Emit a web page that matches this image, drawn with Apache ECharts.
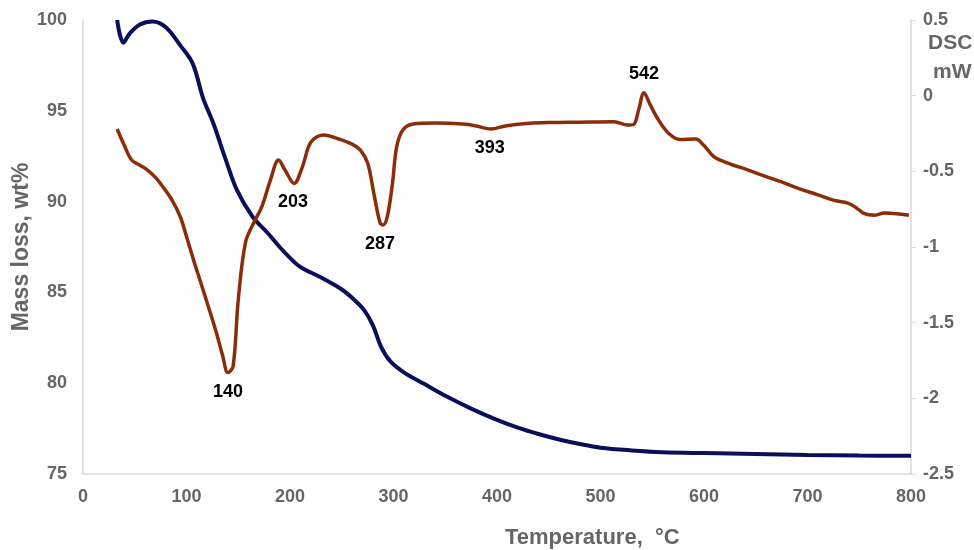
<!DOCTYPE html>
<html>
<head>
<meta charset="utf-8">
<script src="https://cdn.jsdelivr.net/npm/echarts@6/dist/echarts.min.js"></script>
<style>
  html, body { margin: 0; padding: 0; background: #fff; }
  #chart { width: 974px; height: 550px; }
</style>
</head>
<body>
<div id="chart"></div>
<script>
// TGA curve (mass loss, left axis)
const tgaTemp = [33, 39, 45, 55, 67, 80, 94, 106, 116, 126, 138, 149, 164, 178, 190, 200, 210, 229, 249, 262, 272, 280, 288, 297, 310, 330, 352, 375, 397, 420, 440, 460, 480, 500, 530, 560, 600, 650, 700, 750, 800]
const tgaMass = [100.0, 98.75, 99.25, 99.75, 99.92, 99.6, 98.6, 97.6, 95.7, 94.3, 92.3, 90.6, 89.15, 88.3, 87.5, 86.9, 86.4, 85.85, 85.2, 84.6, 84.0, 83.2, 82.0, 81.2, 80.6, 79.95, 79.25, 78.6, 78.05, 77.55, 77.2, 76.9, 76.65, 76.45, 76.3, 76.2, 76.15, 76.1, 76.05, 76.02, 76.0]

// DSC curve (right axis)
const dscTemp = [33, 40, 47, 55, 62, 70, 77, 86, 94, 100, 107, 114, 120, 129, 135, 140, 145, 150, 157, 165, 173, 181, 189, 195, 204, 212, 220, 232, 249, 260, 268, 275, 281, 287, 290, 294, 299, 303, 309, 319, 340, 367, 380, 394, 408, 423, 450, 480, 513, 526, 532, 537, 542, 548, 556, 566, 577, 592, 600, 610, 625, 642, 658, 675, 693, 710, 725, 739, 747, 755, 765, 774, 786, 798]
const dscHeat = [-0.22, -0.33, -0.425, -0.46, -0.49, -0.54, -0.60, -0.69, -0.80, -0.93, -1.09, -1.24, -1.37, -1.57, -1.72, -1.83, -1.79, -1.35, -0.97, -0.84, -0.73, -0.56, -0.425, -0.49, -0.58, -0.47, -0.31, -0.26, -0.29, -0.32, -0.36, -0.445, -0.645, -0.84, -0.855, -0.80, -0.58, -0.34, -0.227, -0.187, -0.18, -0.187, -0.2, -0.22, -0.2, -0.187, -0.178, -0.175, -0.172, -0.194, -0.19, -0.09, 0.02, -0.06, -0.16, -0.25, -0.29, -0.286, -0.33, -0.405, -0.45, -0.49, -0.53, -0.57, -0.617, -0.655, -0.69, -0.71, -0.74, -0.78, -0.79, -0.776, -0.78, -0.79]

// peak annotations
const peakTemp = [140, 203, 287, 393, 542]
const peakHeat = [-1.83, -0.58, -0.855, -0.22, 0.02]
const peakAbove = [false, false, false, false, true]

const grey = '#666666'
const font = 'Liberation Sans, Arial, sans-serif'

const chart = echarts.init(document.getElementById('chart'))

const option = {
  animation: false,
  backgroundColor: '#fff',
  grid: { left: 83, right: 63, top: 20, bottom: 76, outerBoundsMode: 'none' },
  xAxis: {
    type: 'value',
    min: 0,
    max: 800,
    interval: 100,
    axisLine: { show: true, onZero: false, lineStyle: { color: '#d9d9d9', width: 1.5 } },
    axisTick: { show: false },
    splitLine: { show: false },
    axisLabel: { color: grey, fontSize: 18, fontWeight: 'bold', fontFamily: font, margin: 14 }
  },
  yAxis: [
    {
      type: 'value',
      min: 75,
      max: 100,
      interval: 5,
      name: 'Mass loss, wt%',
      nameLocation: 'middle',
      nameGap: 50,
      nameMoveOverlap: false,
      nameTextStyle: { color: grey, fontSize: 23, fontWeight: 'bold', fontFamily: font },
      axisLine: { show: true, lineStyle: { color: '#d9d9d9', width: 1.5 } },
      axisTick: { show: false },
      splitLine: { show: false },
      axisLabel: { color: grey, fontSize: 18, fontWeight: 'bold', fontFamily: font, margin: 16 }
    },
    {
      type: 'value',
      position: 'right',
      min: -2.5,
      max: 0.5,
      interval: 0.5,
      axisLine: { show: true, lineStyle: { color: '#d9d9d9', width: 1.5 } },
      axisTick: { show: true, length: 5, lineStyle: { color: '#d9d9d9' } },
      splitLine: { show: false },
      axisLabel: { color: grey, fontSize: 18, fontWeight: 'bold', fontFamily: font, margin: 12 }
    }
  ],
  graphic: [
    {
      type: 'text',
      left: 505,
      top: 527,
      style: { text: 'Temperature,  °C', fill: grey, font: 'bold 22px ' + font }
    },
    {
      type: 'text',
      left: 928,
      top: 33,
      style: { text: 'DSC', fill: grey, font: 'bold 21px ' + font }
    },
    {
      type: 'text',
      left: 933,
      top: 62,
      style: { text: 'mW', fill: grey, font: 'bold 21px ' + font }
    }
  ],
  series: [
    {
      name: 'TGA',
      type: 'line',
      yAxisIndex: 0,
      data: tgaTemp.map((t, i) => [t, tgaMass[i]]),
      smooth: 0.35,
      showSymbol: false,
      lineStyle: { color: '#0b0f5a', width: 4 },
      z: 2
    },
    {
      name: 'DSC',
      type: 'line',
      yAxisIndex: 1,
      data: dscTemp.map((t, i) => [t, dscHeat[i]]),
      smooth: 0.35,
      showSymbol: false,
      lineStyle: { color: '#8a2d0b', width: 3.5 },
      z: 3,
      markPoint: {
        symbol: 'circle',
        symbolSize: 1,
        itemStyle: { color: 'rgba(0,0,0,0)' },
        label: { show: true },
        data: peakTemp.map((t, i) => ({
          coord: [t, peakHeat[i]],
          value: t,
          label: {
            show: true,
            formatter: String(t),
            position: 'inside',
            offset: [0, peakAbove[i] ? -19 : 19],
            color: '#000',
            fontSize: 18,
            fontWeight: 'bold',
            fontFamily: font
          }
        }))
      }
    }
  ]
}

chart.setOption(option)
</script>
</body>
</html>
